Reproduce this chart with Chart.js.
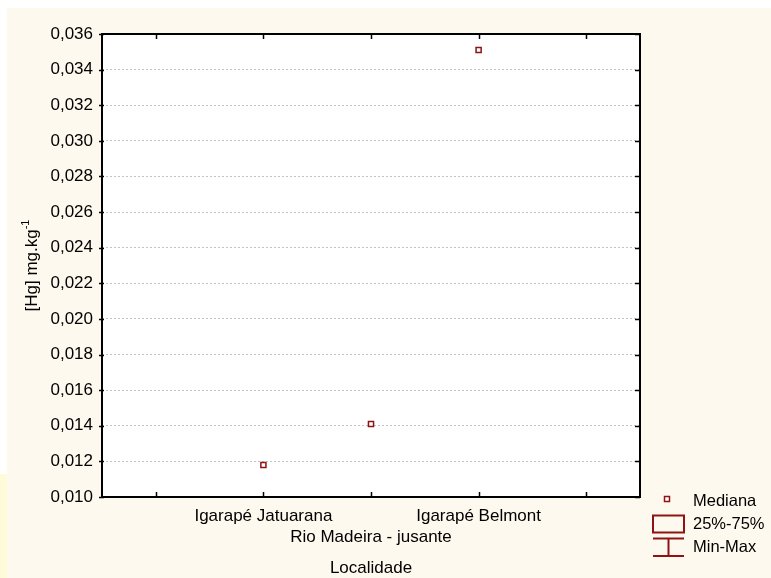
<!DOCTYPE html>
<html lang="pt">
<head>
  <meta charset="UTF-8">
  <title>[Hg] por localidade</title>
  <script src="https://cdn.jsdelivr.net/npm/chart.js"></script>
  <style>
    html, body { margin: 0; padding: 0; background: #fff; }
  </style>
</head>
<body>
  <canvas id="hgChart" width="771" height="578"></canvas>

  <script>
    // categorias (slots vazios nas pontas, rótulos alternados em duas linhas)
    const localidades = ['', ['Igarapé Jatuarana'], ['', 'Rio Madeira - jusante'], ['Igarapé Belmont'], ''];
    const medianas = [null, 0.0118, 0.0141, 0.0351, null];
    const yMin = 0.010, yMax = 0.036, yStep = 0.002;
    const legendLabels = ['Mediana', '25%-75%', 'Min-Max'];

    const FONT = '"Liberation Sans", Arial, sans-serif';
    const RED = '#8e1414';
    const CREAM = '#fef9ee';

    const fmt = v => v.toFixed(3).replace('.', ',');

    // fundo, moldura, marcas dos eixos, título do eixo y e legenda
    const statPlugin = {
      id: 'statPlugin',
      beforeDraw(chart) {
        const { ctx, chartArea: a } = chart;
        ctx.save();
        ctx.fillStyle = '#fff';
        ctx.fillRect(0, 0, chart.width, chart.height);
        ctx.fillStyle = CREAM;
        ctx.fillRect(7, 8, chart.width - 7, chart.height - 8);
        ctx.fillStyle = '#fffbd9';
        ctx.fillRect(0, 474, 7, chart.height - 474);
        ctx.fillStyle = '#fff';
        ctx.fillRect(a.left, a.top, a.right - a.left, a.bottom - a.top);
        ctx.restore();
      },
      afterDraw(chart) {
        const { ctx, chartArea: a } = chart;
        const xs = chart.scales.x, ys = chart.scales.y;
        ctx.save();
        ctx.strokeStyle = '#000';
        ctx.lineWidth = 2;
        ctx.strokeRect(a.left, a.top, a.right - a.left, a.bottom - a.top);

        ctx.lineWidth = 1.5;
        ctx.beginPath();
        xs.ticks.forEach((t, i) => {
          const px = Math.round(xs.getPixelForTick(i)) + 0.5;
          ctx.moveTo(px, a.bottom); ctx.lineTo(px, a.bottom - 5);
          ctx.moveTo(px, a.top); ctx.lineTo(px, a.top + 5);
        });
        ys.ticks.forEach(t => {
          const py = Math.round(ys.getPixelForValue(t.value)) + 0.5;
          ctx.moveTo(a.left - 3, py); ctx.lineTo(a.left + 2, py);
          ctx.moveTo(a.right, py); ctx.lineTo(a.right - 5, py);
        });
        ctx.stroke();

        // título do eixo y com expoente
        const main = '[Hg] mg.kg', sup = '-1';
        ctx.fillStyle = '#000';
        ctx.font = '17px ' + FONT;
        const w1 = ctx.measureText(main).width;
        ctx.font = '11px ' + FONT;
        const w2 = ctx.measureText(sup).width;
        ctx.translate(37, (a.top + a.bottom) / 2);
        ctx.rotate(-Math.PI / 2);
        ctx.textAlign = 'left';
        ctx.textBaseline = 'alphabetic';
        const start = -(w1 + w2) / 2;
        ctx.font = '17px ' + FONT;
        ctx.fillText(main, start, 0);
        ctx.font = '11px ' + FONT;
        ctx.fillText(sup, start + w1, -8);
        ctx.restore();

        // legenda
        ctx.save();
        ctx.strokeStyle = RED;
        ctx.lineWidth = 1.5;
        ctx.fillStyle = '#fff';
        ctx.fillRect(664.5, 496.5, 5, 5);
        ctx.strokeRect(664.5, 496.5, 5, 5);
        ctx.lineWidth = 2;
        ctx.strokeRect(653, 515.5, 31, 17);
        ctx.beginPath();
        ctx.moveTo(653, 538.5); ctx.lineTo(684, 538.5);
        ctx.moveTo(653, 556); ctx.lineTo(684, 556);
        ctx.moveTo(668.5, 538.5); ctx.lineTo(668.5, 556);
        ctx.stroke();
        ctx.fillStyle = '#000';
        ctx.font = '16.5px ' + FONT;
        ctx.textAlign = 'left';
        ctx.textBaseline = 'middle';
        ctx.fillText(legendLabels[0], 693, 501);
        ctx.fillText(legendLabels[1], 693, 524.5);
        ctx.fillText(legendLabels[2], 693, 547.5);
        ctx.restore();
      }
    };

    new Chart(document.getElementById('hgChart'), {
      type: 'line',
      data: {
        labels: localidades,
        datasets: [{
          label: 'Mediana',
          data: medianas,
          showLine: false,
          pointStyle: 'rect',
          pointRadius: 3.6,
          pointHoverRadius: 3.6,
          pointBorderWidth: 1.5,
          pointBorderColor: RED,
          pointBackgroundColor: '#fff',
          clip: false
        }]
      },
      options: {
        responsive: false,
        animation: false,
        layout: { padding: { top: 34, right: 131, left: 0, bottom: 0 } },
        plugins: {
          legend: { display: false },
          tooltip: { enabled: false }
        },
        scales: {
          x: {
            type: 'category',
            offset: true,
            afterFit: s => { s.height = 81; },
            grid: { display: false, drawTicks: false },
            border: { display: false },
            ticks: {
              autoSkip: false,
              maxRotation: 0,
              minRotation: 0,
              padding: 9,
              color: '#000',
              font: { family: FONT, size: 17, lineHeight: '21px' }
            },
            title: {
              display: true,
              text: 'Localidade',
              color: '#000',
              padding: { top: 0, bottom: 0 },
              font: { family: FONT, size: 17, lineHeight: 1.1 }
            }
          },
          y: {
            min: yMin,
            max: yMax,
            afterFit: s => { s.width = 102; },
            grid: {
              drawTicks: false,
              color: ctx => (ctx.tick && (Math.abs(ctx.tick.value - yMin) < 1e-9 || Math.abs(ctx.tick.value - yMax) < 1e-9)) ? 'rgba(0,0,0,0)' : '#c4c4c4',
              lineWidth: 1
            },
            border: { display: false, dash: [2, 2] },
            ticks: {
              stepSize: yStep,
              padding: 9,
              color: '#000',
              font: { family: FONT, size: 17 },
              callback: v => fmt(v)
            }
          }
        }
      },
      plugins: [statPlugin]
    });
  </script>
</body>
</html>
